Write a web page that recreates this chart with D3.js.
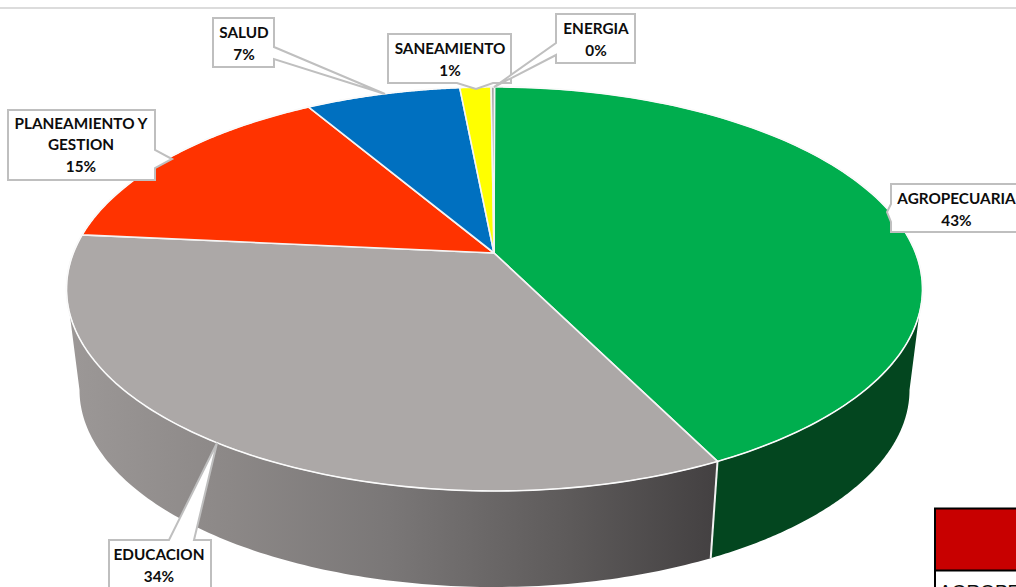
<!DOCTYPE html>
<html><head><meta charset="utf-8">
<script src="https://cdn.jsdelivr.net/npm/d3@7/dist/d3.min.js"></script>
<style>html,body{margin:0;padding:0;background:#fff;overflow:hidden}svg{display:block}
text{font-family:Lato,Carlito,"Open Sans",sans-serif;font-weight:700;font-size:15.3px;fill:#0d0d0d}</style>
</head><body><svg id="c" width="1016" height="587"></svg>
<script>
const categories = ["AGROPECUARIA","EDUCACION","PLANEAMIENTO Y|GESTION","SALUD","SANEAMIENTO","ENERGIA"];
const values = [42.66,33.84,15.0,6.95,1.4,0.15];
const colors = ["#00ae4e","#aca8a7","#ff3300","#0070c0","#ffff00","#a5a5a5"];
const boxes = [
 {x:891,y:184,w:132,h:48,lx:956.5,tip:[887,212],base:[[891,204],[891,222]]},
 {x:109,y:540,w:102,h:60,lx:159,tip:[217,443],base:[[169,540],[194,540]]},
 {x:8,y:110,w:147,h:70,lx:81,tip:[172,159],base:[[155,150],[155,168]]},
 {x:213,y:18,w:61,h:49,lx:244,tip:[385,94],base:[[274,47],[274,59]]},
 {x:388,y:34,w:123,h:49,lx:450,tip:[476,89],base:[[457,83],[493,83]]},
 {x:556,y:14,w:79,h:49,lx:596,tip:[494,87],base:[[557,43],[557,55]]}
];
const svg = d3.select("#c");
const top_ = {cx:494.5,cy:289,rx:428,ry:202}, bot = {cx:494.5,cy:390,rx:415,ry:197};
// perspective: apex sits above the ellipse centre, disk boundary moved by a Moebius map
const apex = [494,253];
const k = (top_.cy-apex[1])/top_.ry;
const ap = (1-Math.sqrt(1-k*k))/k;
const frac = d3.scaleLinear().domain([0,d3.sum(values)]).range([0,2*Math.PI]);
function warp(th){ // th clockwise from top -> warped angle (same convention)
  const zr=Math.sin(th), zi=Math.cos(th);
  const nr=zr, ni=zi+ap;
  const dr=1+ap*zi, di=-ap*zr;
  const m=dr*dr+di*di;
  const wr=(nr*dr+ni*di)/m, wi=(ni*dr-nr*di)/m;
  let a=Math.atan2(wr,wi); if(a<0)a+=2*Math.PI; if(th>0.001&&a<0.0001)a=2*Math.PI;
  return a;
}
const P=(e,a)=>[e.cx+e.rx*Math.sin(a), e.cy-e.ry*Math.cos(a)];
let cum=0;
const slices=values.map((v,i)=>{const s=cum;cum+=v;return {i,a0:warp(frac(s)),a1:i==values.length-1?2*Math.PI:warp(frac(cum))};});
const line=d3.line();
const arcPts=(e,a0,a1)=>d3.range(0,121).map(j=>P(e,a0+(a1-a0)*j/120));

const defs=svg.append("defs");
const g=defs.append("linearGradient").attr("id","wall").attr("gradientUnits","userSpaceOnUse")
 .attr("x1",67).attr("x2",712).attr("y1",0).attr("y2",0);
[[0,"#9c9897"],[0.25,"#8c8887"],[0.5,"#7a7777"],[0.78,"#5d5a5a"],[1,"#444142"]].forEach(s=>g.append("stop").attr("offset",s[0]).attr("stop-color",s[1]));

// side wall: right (dark green) and front (gradient grey)
const seam=slices[0].a1;
const wallR=[...arcPts(top_,Math.PI/2,seam),...arcPts(bot,seam,Math.PI/2).slice()];
svg.append("path").attr("d",line(wallR)+"Z").attr("fill","#03461f");
const wallL=[...arcPts(top_,seam,3*Math.PI/2),...arcPts(bot,3*Math.PI/2,seam)];
svg.append("path").attr("d",line(wallL)+"Z").attr("fill","url(#wall)");
svg.append("path").attr("d",line([P(top_,seam),P(bot,seam)])).attr("stroke","#f2f2f2").attr("stroke-width",2);

// top face slices
svg.selectAll("path.s").data(slices).join("path").attr("class","s")
 .attr("d",d=>line([apex,...arcPts(top_,d.a0,d.a1)])+"Z")
 .attr("fill",d=>colors[d.i]).attr("stroke","#f4f4f4").attr("stroke-width",1.6).attr("stroke-linejoin","round");
svg.append("path").attr("d",line(arcPts(top_,0.02,2*Math.PI-0.02))).attr("fill","none").attr("stroke","#fff").attr("stroke-width",0.8);

// chrome: top rule
svg.append("rect").attr("x",0).attr("y",7).attr("width",1016).attr("height",2).attr("fill","#dcdcdc");

// callouts
categories.forEach((c,i)=>{
  const b=boxes[i];
  const [p,q]=b.base;
  const corners=[[b.x,b.y],[b.x+b.w,b.y],[b.x+b.w,b.y+b.h],[b.x,b.y+b.h]];
  const sx=b.base[0][0]===b.base[1][0];
  const pts=[];
  corners.forEach((a,j)=>{const n=corners[(j+1)%4];pts.push(a);
    const onSide=sx?(a[0]===n[0]&&Math.abs(a[0]-p[0])<2):(a[1]===n[1]&&Math.abs(a[1]-p[1])<2);
    if(onSide){const d=(u)=>Math.hypot(u[0]-a[0],u[1]-a[1]);
      const [u,v]=d(p)<d(q)?[p,q]:[q,p];pts.push([a[0]===n[0]?a[0]:u[0],a[1]===n[1]?a[1]:u[1]],b.tip,[a[0]===n[0]?a[0]:v[0],a[1]===n[1]?a[1]:v[1]]);}});
  svg.append("path").attr("d",line(pts)+"Z").attr("fill","#fff").attr("stroke","#bfbfbf").attr("stroke-width",2);
  const pct=Math.round(values[i]/d3.sum(values)*100)+"%";
  const rows=[...c.split("|"),pct];
  const t=svg.append("text").attr("text-anchor","middle");
  rows.forEach((s,j)=>t.append("tspan").attr("x",b.lx).attr("y",b.y+(rows.length==3?18.5:20)+j*21.8).text(s));
});

// fragment of the table at bottom right
svg.append("rect").attr("x",935).attr("y",508.5).attr("width",90).attr("height",62).attr("fill","#c80000").attr("stroke","#000").attr("stroke-width",2);
svg.append("rect").attr("x",934).attr("y",570).attr("width",2).attr("height",17).attr("fill","#000");
svg.append("text").attr("x",939).attr("y",598).text("AGROPECUARIA").style("font-family","'Liberation Sans'").style("font-weight",400).style("font-size","19px");
</script></body></html>
